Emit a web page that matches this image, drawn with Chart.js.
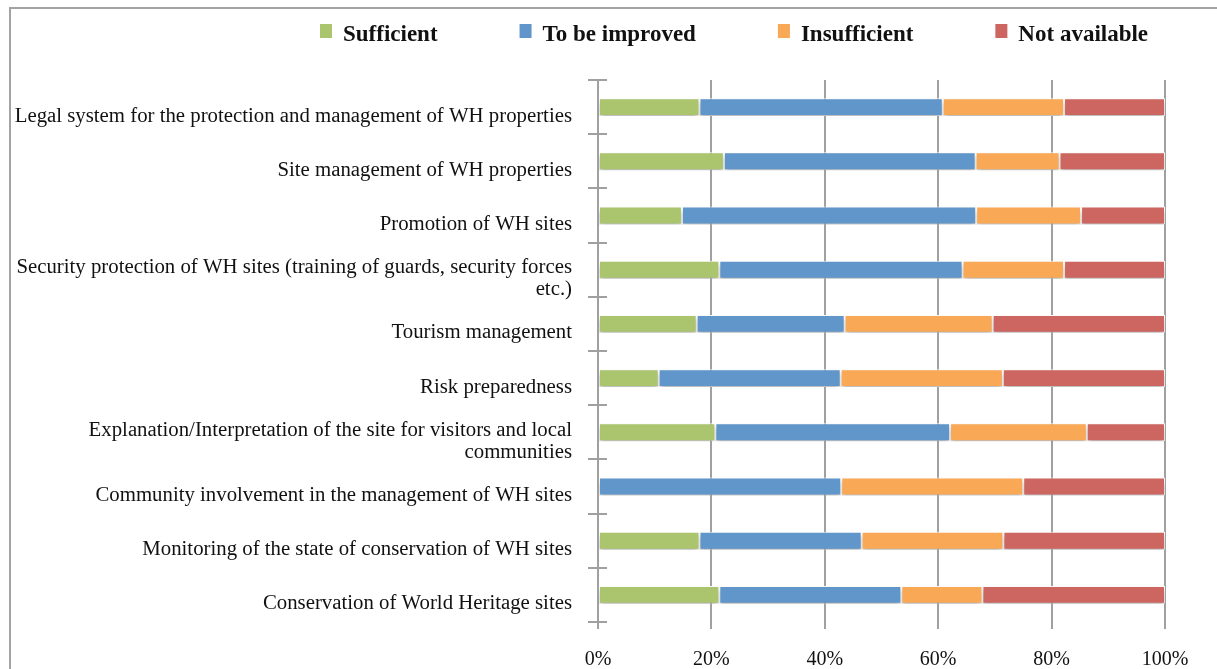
<!DOCTYPE html>
<html>
<head>
<meta charset="utf-8">
<script src="https://cdn.jsdelivr.net/npm/chart.js@4.4.1/dist/chart.umd.min.js"></script>
<style>
html,body{margin:0;padding:0;background:#fff;}
#frame{position:absolute;left:9px;top:7px;width:1300px;height:700px;border-top:2px solid #a3a3a3;border-left:2px solid #a3a3a3;}
#wrap{position:absolute;left:0;top:0;width:1217px;height:669px;}
</style>
</head>
<body>
<div id="frame"></div>
<div id="wrap"><canvas id="c" width="1217" height="669"></canvas></div>
<script>
const categories = [
  "Legal system for the protection and management of WH properties",
  "Site management of WH properties",
  "Promotion of WH sites",
  ["Security protection of WH sites (training of guards, security forces", "etc.)"],
  "Tourism management",
  "Risk preparedness",
  ["Explanation/Interpretation of the site for visitors and local", "communities"],
  "Community involvement in the management of WH sites",
  "Monitoring of the state of conservation of WH sites",
  "Conservation of World Heritage sites"
];
const seriesNames = ["Sufficient", "To be improved", "Insufficient", "Not available"];
const sufficient   = [17.9, 22.2, 14.8, 21.4, 17.4, 10.7, 20.7, 0.0, 17.9, 21.4];
const toBeImproved = [42.9, 44.4, 51.9, 42.9, 26.1, 32.1, 41.4, 42.9, 28.6, 32.1];
const insufficient = [21.4, 14.8, 18.5, 17.9, 26.1, 28.6, 24.1, 32.1, 25.0, 14.3];
const notAvailable = [17.8, 18.6, 14.8, 17.8, 30.4, 28.6, 13.8, 25.0, 28.5, 32.2];
const xTicks = [0, 20, 40, 60, 80, 100];
const colors = ["#abc46e", "#6096c9", "#f9a856", "#cd6660"];

const FONT = '"Liberation Serif", "Times New Roman", serif';
const GRID = '#a0a0a0';

const shadowPlugin = {
  id: 'barShadow',
  beforeDatasetsDraw(chart) {
    const ctx = chart.ctx;
    ctx.save();
    ctx.shadowColor = 'rgba(0,0,0,0.33)';
    ctx.shadowBlur = 5;
    ctx.shadowOffsetY = 3;
  },
  afterDatasetsDraw(chart) { chart.ctx.restore(); }
};

const crossTickPlugin = {
  id: 'crossTicks',
  afterDraw(chart) {
    const y = chart.scales.y, ctx = chart.ctx, left = chart.chartArea.left;
    ctx.save();
    ctx.strokeStyle = GRID; ctx.lineWidth = 2;
    for (let i = 0; i <= categories.length; i++) {
      const py = Math.round(y.getPixelForValue(i - 0.5));
      ctx.beginPath(); ctx.moveTo(left, py); ctx.lineTo(left + 9, py); ctx.stroke();
    }
    ctx.restore();
  }
};

const legendPlugin = {
  id: 'topLegend',
  afterDraw(chart) {
    const ctx = chart.ctx;
    ctx.save();
    ctx.font = 'bold 23px ' + FONT;
    ctx.textBaseline = 'alphabetic';
    let x = 320;
    chart.data.datasets.forEach(ds => {
      ctx.fillStyle = ds.backgroundColor;
      ctx.fillRect(x, 24, 12, 14);
      ctx.fillStyle = '#111';
      ctx.fillText(ds.label, x + 23, 41);
      x += 23 + ctx.measureText(ds.label).width + 82;
    });
    ctx.restore();
  }
};

const seriesData = [sufficient, toBeImproved, insufficient, notAvailable];

new Chart(document.getElementById('c'), {
  type: 'bar',
  data: {
    labels: categories,
    datasets: seriesNames.map((name, i) => ({
      label: name,
      data: seriesData[i],
      backgroundColor: colors[i],
      borderColor: '#ffffff',
      borderWidth: 1,
      borderSkipped: false,
      barPercentage: 1,
      categoryPercentage: 0.33
    }))
  },
  options: {
    indexAxis: 'y',
    responsive: false,
    animation: false,
    devicePixelRatio: 1,
    layout: { padding: { top: 80, right: 52, left: 0, bottom: 0 } },
    plugins: { legend: { display: false }, tooltip: { enabled: false } },
    scales: {
      x: {
        stacked: true, min: 0, max: 100,
        afterBuildTicks: s => { s.ticks = xTicks.map(v => ({ value: v })); },
        afterFit: s => { s.height = 47; },
        grid: { color: GRID, lineWidth: 2, tickLength: 7, drawTicks: true },
        border: { display: false },
        ticks: { padding: 19, color: '#111', font: { family: FONT, size: 20 }, callback: v => v + '%' }
      },
      y: {
        stacked: true,
        afterFit: s => { s.width = 598; },
        grid: { drawOnChartArea: false, drawTicks: true, tickLength: 10, color: GRID, lineWidth: 2, offset: true },
        border: { display: true, color: GRID, width: 2 },
        ticks: { padding: 16, labelOffset: 9, color: '#111', font: { family: FONT, size: 20.8, lineHeight: 1.06 } }
      }
    }
  },
  plugins: [shadowPlugin, crossTickPlugin, legendPlugin]
});
</script>
</body>
</html>
